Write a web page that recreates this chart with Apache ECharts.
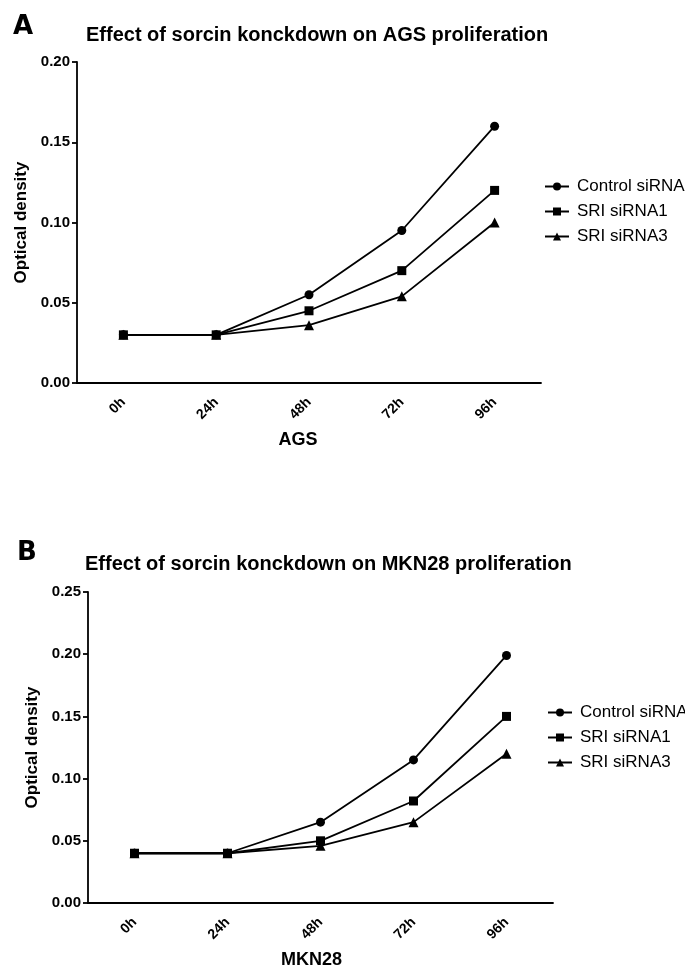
<!DOCTYPE html>
<html>
<head>
<meta charset="utf-8">
<script src="https://cdn.jsdelivr.net/npm/echarts@6/dist/echarts.min.js"></script>
<style>
  html, body { margin: 0; padding: 0; background: #fff; }
  #main { width: 685px; height: 970px; }
</style>
</head>
<body>
<div id="main"></div>
<script>
// time points (x axis)
var hours = ['0h', '24h', '48h', '72h', '96h'];
var seriesNames = ['Control siRNA', 'SRI siRNA1', 'SRI siRNA3'];

// panel A - AGS
var agsControl = [0.03, 0.03, 0.055, 0.095, 0.16];
var agsSri1 = [0.03, 0.03, 0.045, 0.07, 0.12];
var agsSri3 = [0.03, 0.03, 0.036, 0.054, 0.10];

// panel B - MKN28
var mknControl = [0.04, 0.04, 0.065, 0.115, 0.199];
var mknSri1 = [0.04, 0.04, 0.05, 0.082, 0.15];
var mknSri3 = [0.04, 0.04, 0.046, 0.065, 0.12];

var FONT = '"Liberation Sans", Arial, sans-serif';
var symbols = ['circle', 'rect', 'triangle'];
var symbolSizes = [9, 9, 10];

function xAxisOf(grid, name, pad) {
  return {
    type: 'category', gridIndex: grid, data: hours,
    name: name, nameLocation: 'middle', nameGap: 48,
    nameTextStyle: { fontFamily: FONT, fontSize: 18, fontWeight: 'bold', color: '#000', padding: [0, pad, 0, 0] },
    axisLine: { lineStyle: { color: '#000', width: 1.8 } },
    axisTick: { alignWithLabel: true, length: 5, lineStyle: { color: '#000', width: 1.8 } },
    axisLabel: { rotate: 45, margin: 17, fontFamily: FONT, fontSize: 14, fontWeight: 'bold', color: '#000' },
    splitLine: { show: false }
  };
}

function yAxisOf(grid, max, gap) {
  return {
    type: 'value', gridIndex: grid, min: 0, max: max, interval: 0.05,
    name: 'Optical density', nameLocation: 'middle', nameGap: gap,
    nameTextStyle: { fontFamily: FONT, fontSize: 17, fontWeight: 'bold', color: '#000' },
    axisLine: { show: true, lineStyle: { color: '#000', width: 1.8 } },
    axisTick: { show: true, length: 5, lineStyle: { color: '#000', width: 1.8 } },
    axisLabel: { margin: 7, fontFamily: FONT, fontSize: 15, fontWeight: 'bold', color: '#000',
      formatter: function (v) { return v.toFixed(2); } },
    splitLine: { show: false }
  };
}

function lineSeries(i, grid, data) {
  return {
    name: seriesNames[i], type: 'line',
    xAxisIndex: grid, yAxisIndex: grid,
    data: data,
    symbol: symbols[i], symbolSize: symbolSizes[i],
    z: i === 1 ? 4 : 3,
    itemStyle: { color: '#000' },
    lineStyle: { color: '#000', width: 1.8 }
  };
}

function legendOf(left, top) {
  return {
    data: seriesNames, orient: 'vertical', left: left, top: top,
    itemWidth: 24, itemHeight: 10, itemGap: 8,
    textStyle: { fontFamily: FONT, fontSize: 17, color: '#000', padding: [0, 0, 0, 3] }
  };
}

var option = {
  animation: false,
  backgroundColor: '#fff',
  title: [
    { text: 'A', left: 8, top: 9, textStyle: { fontFamily: '"DejaVu Sans", sans-serif', fontSize: 26, fontWeight: 'bold', color: '#000' } },
    { text: 'Effect of sorcin konckdown on AGS proliferation', left: 81, top: 20,
      textStyle: { fontFamily: FONT, fontSize: 20, fontWeight: 'bold', color: '#000' } },
    { text: 'B', left: 12, top: 535, textStyle: { fontFamily: '"DejaVu Sans", sans-serif', fontSize: 26, fontWeight: 'bold', color: '#000' } },
    { text: 'Effect of sorcin konckdown on MKN28 proliferation', left: 80, top: 549,
      textStyle: { fontFamily: FONT, fontSize: 20, fontWeight: 'bold', color: '#000' } }
  ],
  legend: [legendOf(539, 173), legendOf(542, 699)],
  grid: [
    { left: 77, top: 62, width: 464, height: 321 },
    { left: 88, top: 592, width: 465, height: 315 }
  ],
  xAxis: [xAxisOf(0, 'AGS', 22), xAxisOf(1, 'MKN28', 18)],
  yAxis: [yAxisOf(0, 0.20, 45), yAxisOf(1, 0.25, 44)],
  series: [
    lineSeries(0, 0, agsControl),
    lineSeries(1, 0, agsSri1),
    lineSeries(2, 0, agsSri3),
    lineSeries(0, 1, mknControl),
    lineSeries(1, 1, mknSri1),
    lineSeries(2, 1, mknSri3)
  ]
};

var chart = echarts.init(document.getElementById('main'));
chart.setOption(option);
</script>
</body>
</html>
